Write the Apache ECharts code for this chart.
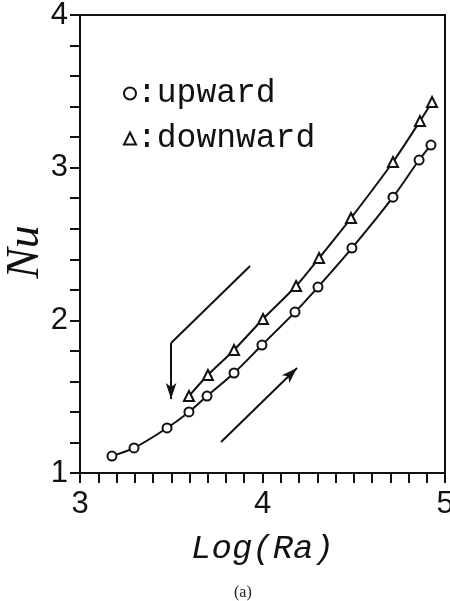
<!DOCTYPE html>
<html>
<head>
<meta charset="utf-8">
<script src="https://cdn.jsdelivr.net/npm/echarts@6/dist/echarts.min.js"></script>
<style>
  html, body { margin: 0; padding: 0; background: #fff; }
  #chart { width: 450px; height: 601px; }
</style>
</head>
<body>
<div id="chart"></div>
<script>
// upward sweep (circles): [log(Ra), Nu]
var upward = [
  [3.175, 1.111], [3.296, 1.164], [3.477, 1.295], [3.597, 1.400],
  [3.696, 1.504], [3.844, 1.655], [3.997, 1.838], [4.178, 2.054],
  [4.304, 2.218], [4.490, 2.473], [4.715, 2.807], [4.858, 3.050],
  [4.923, 3.148]
];
// downward sweep (triangles)
var downward = [
  [3.597, 1.504], [3.701, 1.642], [3.844, 1.806], [4.003, 2.009],
  [4.184, 2.225], [4.310, 2.408], [4.485, 2.670], [4.715, 3.037],
  [4.863, 3.305], [4.929, 3.430]
];
// direction arrows (data coords)
var downArrow = [[3.932, 2.356], [3.499, 1.851], [3.499, 1.485]];
var upArrow = [[3.773, 1.203], [4.189, 1.688]];

var chart = echarts.init(document.getElementById('chart'));

var BLACK = '#111';
var arrowLine = { color: BLACK, width: 2, type: 'solid' };
var tickStyle = { color: BLACK, width: 2 };

var option = {
  animation: false,
  backgroundColor: '#fff',
  title: {
    text: '(a)',
    left: 229,
    top: 580,
    textStyle: { fontFamily: 'Liberation Serif', fontSize: 16, fontWeight: 'normal', color: '#222' }
  },
  // y-axis title, placed by hand (axis name gets pushed off the edge)
  graphic: [{
    type: 'text',
    x: 26,
    y: 252,
    rotation: Math.PI / 2,
    style: {
      text: 'Nu',
      fill: BLACK,
      font: 'italic 46px "Liberation Serif"',
      align: 'center',
      verticalAlign: 'middle'
    }
  }],
  legend: {
    orient: 'vertical',
    left: 118,
    top: 72,
    itemGap: 12,
    itemWidth: 12,
    itemHeight: 12,
    formatter: function (name) { return ':' + name; },
    textStyle: { fontFamily: 'Liberation Mono', fontSize: 33, color: BLACK, padding: [0, 0, 0, -4] },
    itemStyle: { borderWidth: 2, borderColor: BLACK, color: '#fff' },
    data: [
      { name: 'upward', icon: 'circle' },
      { name: 'downward', icon: 'triangle' }
    ]
  },
  grid: {
    left: 80, right: 5, top: 15, bottom: 128,
    outerBoundsMode: 'none',
    containLabel: false,
    show: true, borderColor: BLACK, borderWidth: 2
  },
  xAxis: {
    type: 'value',
    min: 3, max: 5, interval: 1,
    name: 'Log(Ra)',
    nameLocation: 'middle',
    nameGap: 59,
    nameTextStyle: { fontFamily: 'Liberation Mono', fontStyle: 'italic', fontSize: 34, color: BLACK },
    axisLine: { show: true, onZero: false, lineStyle: { color: BLACK, width: 2 } },
    axisTick: { show: true, inside: false, length: 10, lineStyle: tickStyle },
    minorTick: { show: true, splitNumber: 10, length: 10, lineStyle: tickStyle },
    splitLine: { show: false },
    axisLabel: {
      margin: 16,
      fontFamily: 'Liberation Sans', fontSize: 31, color: BLACK,
      showMinLabel: true, showMaxLabel: true
    }
  },
  yAxis: {
    type: 'value',
    min: 1, max: 4, interval: 1,
    axisLine: { show: true, onZero: false, lineStyle: { color: BLACK, width: 2 } },
    axisTick: { show: true, inside: false, length: 10, lineStyle: tickStyle },
    minorTick: { show: true, splitNumber: 5, length: 10, lineStyle: tickStyle },
    splitLine: { show: false },
    axisLabel: {
      margin: 12,
      fontFamily: 'Liberation Sans', fontSize: 31, color: BLACK,
      showMinLabel: true, showMaxLabel: true
    }
  },
  series: [
    {
      name: 'upward',
      type: 'line',
      data: upward,
      smooth: 0.3,
      symbol: 'emptyCircle',
      symbolSize: 9,
      lineStyle: { color: BLACK, width: 2 },
      itemStyle: { color: BLACK, borderWidth: 2 },
      markLine: {
        silent: true,
        animation: false,
        label: { show: false },
        lineStyle: arrowLine,
        symbolSize: [8, 16],
        data: [
          [{ coord: downArrow[0], symbol: 'none' }, { coord: downArrow[1], symbol: 'none' }],
          [{ coord: downArrow[1], symbol: 'none' }, { coord: downArrow[2], symbol: 'arrow' }],
          [{ coord: upArrow[0], symbol: 'none' }, { coord: upArrow[1], symbol: 'arrow' }]
        ]
      }
    },
    {
      name: 'downward',
      type: 'line',
      data: downward,
      smooth: 0.3,
      symbol: 'emptyTriangle',
      symbolSize: 10,
      lineStyle: { color: BLACK, width: 2 },
      itemStyle: { color: BLACK, borderWidth: 2 }
    }
  ]
};

chart.setOption(option);
</script>
</body>
</html>
